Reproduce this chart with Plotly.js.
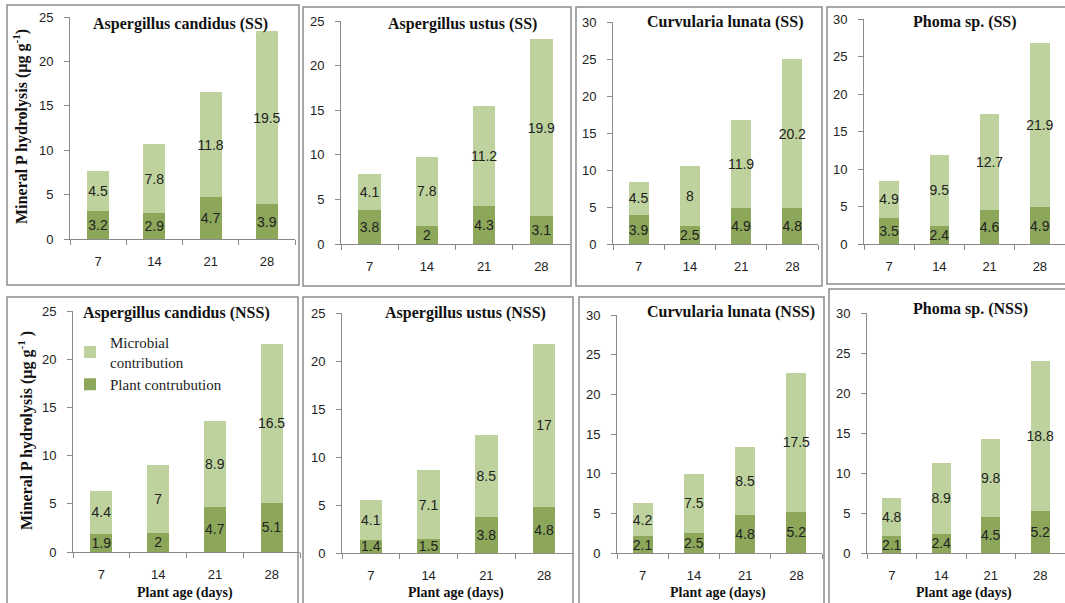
<!DOCTYPE html>
<html>
<head>
<meta charset="utf-8">
<script src="https://cdn.plot.ly/plotly-3.0.1.min.js"></script>
<style>html,body{margin:0;padding:0;background:#fff;}#chart{width:1065px;height:603px;}</style>
</head>
<body>
<div id="chart"></div>
<script>
// ---------------- DATA ----------------
const categories = ['7', '14', '21', '28'];

const panelTitles = [
  'Aspergillus candidus (SS)', 'Aspergillus ustus (SS)', 'Curvularia lunata (SS)', 'Phoma sp. (SS)',
  'Aspergillus candidus (NSS)', 'Aspergillus ustus (NSS)', 'Curvularia lunata (NSS)', 'Phoma sp. (NSS)'
];

const seriesNames = ['Plant contrubution', 'Microbial<br>contribution'];
const yAxisTitleTop = 'Mineral P hydrolysis (µg g<sup>-1</sup>)';
const yAxisTitleBottom = 'Mineral P hydrolysis (µg g<sup>-1</sup> )';
const xAxisTitle = 'Plant age (days)';

// Stressed soil (SS)
const plantCandidusSS = [3.2, 2.9, 4.7, 3.9];
const microCandidusSS = [4.5, 7.8, 11.8, 19.5];
const plantUstusSS = [3.8, 2, 4.3, 3.1];
const microUstusSS = [4.1, 7.8, 11.2, 19.9];
const plantCurvulariaSS = [3.9, 2.5, 4.9, 4.8];
const microCurvulariaSS = [4.5, 8, 11.9, 20.2];
const plantPhomaSS = [3.5, 2.4, 4.6, 4.9];
const microPhomaSS = [4.9, 9.5, 12.7, 21.9];

// Non-stressed soil (NSS)
const plantCandidusNSS = [1.9, 2, 4.7, 5.1];
const microCandidusNSS = [4.4, 7, 8.9, 16.5];
const plantUstusNSS = [1.4, 1.5, 3.8, 4.8];
const microUstusNSS = [4.1, 7.1, 8.5, 17];
const plantCurvulariaNSS = [2.1, 2.5, 4.8, 5.2];
const microCurvulariaNSS = [4.2, 7.5, 8.5, 17.5];
const plantPhomaNSS = [2.1, 2.4, 4.5, 5.2];
const microPhomaNSS = [4.8, 8.9, 9.8, 18.8];

const yMaxima = [25, 25, 30, 30, 25, 25, 30, 30];

const plantSeries = [plantCandidusSS, plantUstusSS, plantCurvulariaSS, plantPhomaSS,
                     plantCandidusNSS, plantUstusNSS, plantCurvulariaNSS, plantPhomaNSS];
const microSeries = [microCandidusSS, microUstusSS, microCurvulariaSS, microPhomaSS,
                     microCandidusNSS, microUstusNSS, microCurvulariaNSS, microPhomaNSS];

// ---------------- LAYOUT GEOMETRY (pixels) ----------------
const W = 1065, H = 603;
const px = v => v / W;
const py = v => 1 - v / H;

// box: [left, top, right, bottom]; plot: [left, right, top(ymax), bottom(0)]
const geom = [
  {box: [7, 5, 299, 285],   plot: [70, 295, 17, 239],  title: [180, 24]},
  {box: [303, 7, 571, 286], plot: [341, 570, 21, 244], title: [462, 24]},
  {box: [576, 7, 822, 286], plot: [613, 818, 22, 244], title: [725, 22]},
  {box: [827, 7, 1072, 284], plot: [864, 1065, 19, 244], title: [965, 22]},
  {box: [7, 297, 298, 612],  plot: [73, 300, 311, 552], title: [176, 313]},
  {box: [303, 297, 573, 612], plot: [342, 573, 313, 553], title: [465, 313]},
  {box: [579, 297, 824, 612], plot: [617, 822, 315, 553], title: [731, 312]},
  {box: [829, 289, 1072, 612], plot: [867, 1065, 313, 553], title: [970, 309]}
];

const darkGreen = '#8ca75a';
const lightGreen = '#bed29d';
const axisColor = '#8a8a8a';
const labelFont = {family: 'Liberation Sans, Arial, sans-serif', size: 14, color: '#222'};
const tickFont = {family: 'Liberation Sans, Arial, sans-serif', size: 13, color: '#222'};
const serifBold = 'Liberation Serif, Times New Roman, serif';

const traces = [];
const layout = {
  width: W, height: H,
  margin: {l: 0, r: 0, t: 0, b: 0, pad: 0},
  paper_bgcolor: '#fff', plot_bgcolor: 'rgba(0,0,0,0)',
  barmode: 'stack', bargap: 0.61,
  showlegend: true,
  legend: {
    x: px(70), y: py(326), xanchor: 'left', yanchor: 'top',
    traceorder: 'reversed',
    bgcolor: 'rgba(0,0,0,0)',
    font: {family: 'Liberation Serif, Times New Roman, serif', size: 15, color: '#222'},
    itemwidth: 30, tracegroupgap: 0
  },
  shapes: [], annotations: []
};

geom.forEach((g, i) => {
  const n = i === 0 ? '' : String(i + 1);
  const xa = 'x' + n, ya = 'y' + n;
  const common = {
    type: 'bar', x: categories, xaxis: xa, yaxis: ya,
    textposition: 'inside', insidetextanchor: 'middle', textangle: 0,
    constraintext: 'none', textfont: labelFont, hoverinfo: 'skip',
    showlegend: i === 4
  };
  traces.push(Object.assign({}, common, {
    y: plantSeries[i], text: plantSeries[i].map(String), name: seriesNames[0],
    marker: {color: darkGreen, line: {width: 0}}
  }));
  traces.push(Object.assign({}, common, {
    y: microSeries[i], text: microSeries[i].map(String), name: seriesNames[1],
    marker: {color: lightGreen, line: {width: 0}}
  }));

  layout['xaxis' + n] = {
    domain: [px(g.plot[0]), px(g.plot[1])], anchor: ya,
    type: 'category', showline: true, linecolor: axisColor, linewidth: 1,
    ticks: 'outside', tickson: 'boundaries', ticklen: 5, tickcolor: axisColor,
    tickfont: tickFont, ticklabelstandoff: 10,
    showgrid: false, zeroline: false, fixedrange: true
  };
  layout['yaxis' + n] = {
    domain: [py(g.plot[3]), py(g.plot[2])], anchor: xa,
    range: [0, yMaxima[i]], tick0: 0, dtick: 5,
    showline: true, linecolor: axisColor, linewidth: 1,
    ticks: 'outside', ticklen: 5, tickcolor: axisColor,
    tickfont: tickFont, ticklabelstandoff: 8,
    showgrid: false, zeroline: false, fixedrange: true
  };

  layout.shapes.push({
    type: 'rect', xref: 'paper', yref: 'paper',
    x0: px(g.box[0]), x1: px(g.box[2]), y0: py(g.box[3]), y1: py(g.box[1]),
    line: {color: '#8c8c8c', width: 1.5}, fillcolor: 'rgba(0,0,0,0)', layer: 'below'
  });

  layout.annotations.push({
    xref: 'paper', yref: 'paper', x: px(g.title[0]), y: py(g.title[1]),
    xanchor: 'center', yanchor: 'middle', showarrow: false,
    text: '<b>' + panelTitles[i] + '</b>',
    font: {family: serifBold, size: 16, color: '#111'}
  });

  if (i >= 4) {
    layout.annotations.push({
      xref: 'paper', yref: 'paper', x: px((g.plot[0] + g.plot[1]) / 2 - 2), y: py(593),
      xanchor: 'center', yanchor: 'middle', showarrow: false,
      text: '<b>' + xAxisTitle + '</b>',
      font: {family: serifBold, size: 14, color: '#111'}
    });
  }
});

layout.annotations.push({
  xref: 'paper', yref: 'paper', x: px(20), y: py(127), textangle: -90,
  xanchor: 'center', yanchor: 'middle', showarrow: false,
  text: '<b>' + yAxisTitleTop + '</b>',
  font: {family: serifBold, size: 16, color: '#111'}
});
layout.annotations.push({
  xref: 'paper', yref: 'paper', x: px(25), y: py(431), textangle: -90,
  xanchor: 'center', yanchor: 'middle', showarrow: false,
  text: '<b>' + yAxisTitleBottom + '</b>',
  font: {family: serifBold, size: 16, color: '#111'}
});

Plotly.newPlot('chart', traces, layout, {staticPlot: true, displayModeBar: false});
</script>
</body>
</html>
